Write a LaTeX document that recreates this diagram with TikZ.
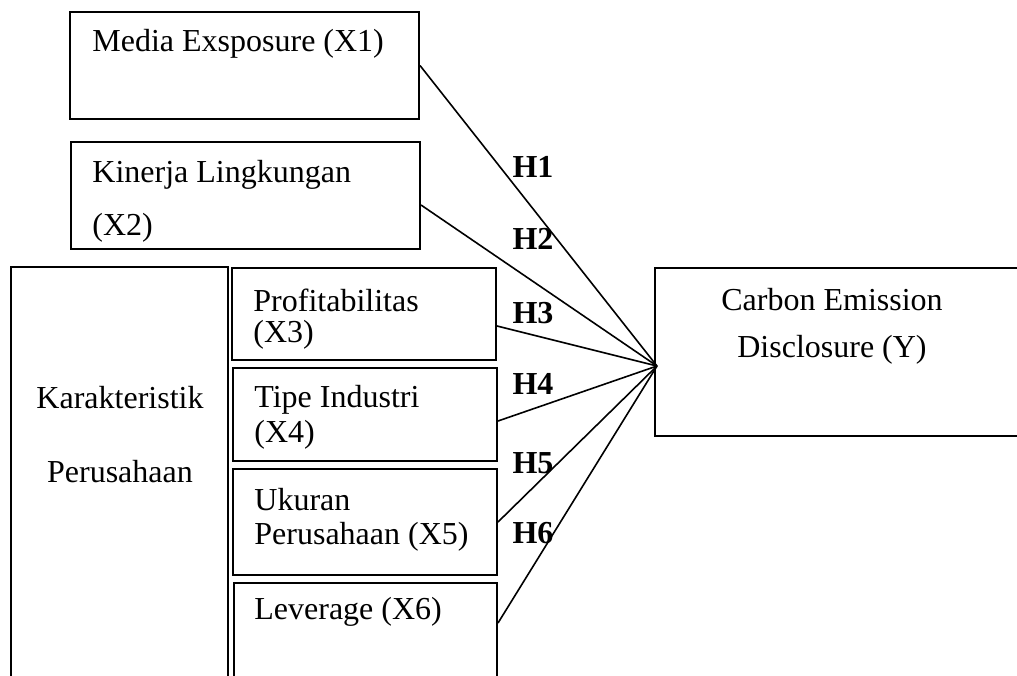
\documentclass[tikz,border=0pt]{standalone}
\usepackage{fontspec}
\setmainfont{Liberation Serif}
\usetikzlibrary{calc}
\begin{document}
\begin{tikzpicture}[x=0.5pt,y=-0.5pt,
  box/.style={draw,line width=1pt,inner sep=0pt,rectangle},
  lbl/.style={inner sep=0pt,anchor=west,font=\fontsize{16}{19}\selectfont},
  clbl/.style={inner sep=0pt,font=\fontsize{16}{19}\selectfont},
  hyp/.style={inner sep=0pt,font=\fontsize{16}{19}\selectfont\bfseries},
  conn/.style={line width=0.8pt}]
\useasboundingbox (0,0) rectangle (1017,675);
% boxes
\node[box,minimum width=174.5pt,minimum height=53.5pt] (x1) at (244.5,65.5) {};
\node[box,minimum width=174.5pt,minimum height=53.5pt] (x2) at (245.5,195.5) {};
\node[box,minimum width=108.5pt,minimum height=210pt] (k) at (119.5,477) {};
\node[box,minimum width=132pt,minimum height=46pt] (x3) at (364,314) {};
\node[box,minimum width=132pt,minimum height=46.5pt] (x4) at (365,414.5) {};
\node[box,minimum width=132pt,minimum height=53pt] (x5) at (365,522) {};
\node[box,minimum width=131.5pt,minimum height=60pt] (x6) at (365.5,643) {};
\node[box,minimum width=190pt,minimum height=84pt] (y) at (845,352) {};
% texts
\node[lbl] (t1) at (92,44) {Media Exsposure (X1)};
\node[lbl] (t2a) at (92,175) {Kinerja Lingkungan};
\node[lbl] (t2b) at (92,228) {(X2)};
\node[clbl] (tka) at (120,398) {Karakteristik};
\node[clbl] (tkb) at (120,472) {Perusahaan};
\node[lbl] (t3a) at (253,300) {Profitabilitas};
\node[lbl] (t3b) at (253,335) {(X3)};
\node[lbl] (t4a) at (254,400) {Tipe Industri};
\node[lbl] (t4b) at (254,435) {(X4)};
\node[lbl] (t5a) at (254,500) {Ukuran};
\node[lbl] (t5b) at (254,537) {Perusahaan (X5)};
\node[lbl] (t6) at (254,612) {Leverage (X6)};
\node[clbl] (tya) at (832,300) {Carbon Emission};
\node[clbl] (tyb) at (832,350) {Disclosure (Y)};
% hub
\coordinate (c) at (657,366);
\draw[conn] (x1.east) -- (c);
\draw[conn] ([yshift=-4.75pt]x2.east) -- (c);
\draw[conn] ([yshift=-6pt]x3.east) -- (c);
\draw[conn] ([yshift=-3.25pt]x4.east) -- (c);
\draw[conn] (x5.east) -- (c);
\draw[conn] ([yshift=10pt]x6.east) -- (c);
% hypothesis labels
\node[hyp] (h1) at (533,167) {H1};
\node[hyp] (h2) at (533,239) {H2};
\node[hyp] (h3) at (533,313) {H3};
\node[hyp] (h4) at (533,384) {H4};
\node[hyp] (h5) at (533,463) {H5};
\node[hyp] (h6) at (533,533) {H6};
\end{tikzpicture}
\end{document}
